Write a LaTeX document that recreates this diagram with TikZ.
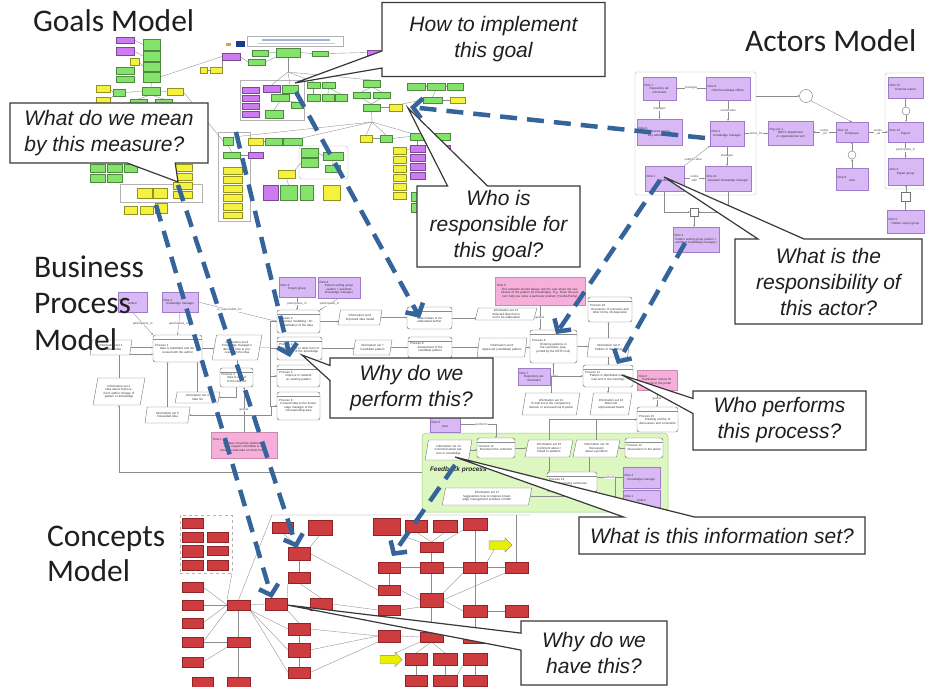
\documentclass[tikz,border=0pt]{standalone}
\usepackage{fontspec}
\setmainfont{Liberation Sans}
\newfontfamily\ttlfont{Carlito}
\usetikzlibrary{shapes.geometric,shapes.callouts,shapes.arrows,arrows.meta}

\definecolor{gGrn}{HTML}{84E36A}
\definecolor{gYel}{HTML}{F4F23C}
\definecolor{gMag}{HTML}{CC7CF0}
\definecolor{aLav}{HTML}{D9B8F6}
\definecolor{aLavD}{HTML}{9F7CC8}
\definecolor{bPink}{HTML}{F6AEDA}
\definecolor{bPinkD}{HTML}{C98AAE}
\definecolor{fbGrn}{HTML}{DDF7C0}
\definecolor{fbGrnD}{HTML}{9CCB74}
\definecolor{cRed}{HTML}{CD3D3F}
\definecolor{cRedD}{HTML}{8E2427}
\definecolor{cYel}{HTML}{E8F000}
\definecolor{arrowBlue}{HTML}{35649A}
\definecolor{hdBlue}{HTML}{9DB3E0}
\definecolor{hdGray}{HTML}{CCCCCC}
\definecolor{logoOr}{HTML}{F0A030}
\definecolor{logoBl}{HTML}{1E3C8C}

\pgfdeclarelayer{back}
\pgfdeclarelayer{edges}
\pgfsetlayers{back,edges,main}

\newcommand{\tinyf}{\fontsize{3}{3.5}\selectfont}
\newcommand{\calf}{\fontsize{21}{26}\selectfont\itshape}
\newcommand{\ttlf}{\ttlfont\fontsize{31.5}{37}\selectfont}
\newcommand{\hd}[1]{\makebox[\linewidth][l]{#1}\\}
% box given by its corners: style, name, x1, y1, x2, y2
\newcommand{\bx}[6]{\node[#1, minimum width={#5-#3}, minimum height={#6-#4}] (#2) at ({(#3+#5)/2},{(#4+#6)/2}) {};}
% box with text: style, name, x1, y1, x2, y2, inset, text
\newcommand{\tb}[8]{\pgfmathsetmacro\tbw{#5-#3-#7}%
  \node[#1, minimum width={#5-#3}, minimum height={#6-#4}, text width=\tbw pt] (#2) at ({(#3+#5)/2},{(#4+#6)/2}) {#8};}

\tikzset{
  every node/.style={inner sep=0pt, outer sep=0pt},
  goalbox/.style={rectangle, fill=#1, draw=#1!60!black, line width=.25pt},
  flat/.style={rectangle, fill=#1},
  wire/.style={draw=black!45, line width=.35pt},
  wirea/.style={wire, -{Stealth[length=2.2pt,width=1.8pt]}},
  role/.style={rectangle, fill=aLav, draw=aLavD, line width=.4pt, font=\tinyf, align=center, text=black!80},
  proc/.style={rectangle, rounded corners=2.5pt, draw=black!55, fill=white, line width=.45pt, font=\tinyf, align=center, text=black!80,
    path picture={\draw[black!45,line width=.3pt] ([yshift=-4pt]path picture bounding box.north west) -- ([yshift=-4pt]path picture bounding box.north east);}},
  info/.style={trapezium, trapezium left angle=72, trapezium right angle=108, trapezium stretches=true, draw=black!55, fill=white, line width=.4pt, font=\tinyf, align=center, text=black!80},
  rulebox/.style={rectangle, fill=bPink, draw=bPinkD, line width=.4pt, font=\tinyf, align=center, text=black!80},
  concept/.style={rectangle, fill=cRed, draw=cRedD, line width=.35pt},
  yarrow/.style={single arrow, fill=cYel, draw=black!50, line width=.3pt, single arrow head extend=3pt, inner xsep=6pt, inner ysep=4pt},
  tag/.style={font=\tinyf, text=black!70, fill=white, inner sep=.3pt, align=center},
  frame/.style={rectangle, draw=black!30, line width=.35pt},
  fbreg/.style={rectangle, rounded corners=4pt, fill=fbGrn, draw=fbGrnD, line width=.5pt},
  hub/.style={circle, draw=black!55, fill=white, line width=.4pt},
  junc/.style={rectangle, draw=black!55, fill=white, line width=.4pt},
  bubble/.style={rectangle callout, draw=black!78, line width=1.2pt, fill=white, font=\calf, text=black!88, align=center},
  ttl/.style={font=\ttlf, anchor=base west, text=black!88},
  qarrow/.style={draw=arrowBlue, line width=4.5pt, dash pattern=on 17pt off 10pt, -{Straight Barb[length=9pt,width=20pt]}},
}

\begin{document}
\begin{tikzpicture}[x=1pt, y=-1pt]
\begin{pgfonlayer}{back}
  \fill[white] (0,0) rectangle (925,687);
\end{pgfonlayer}
\useasboundingbox (0,0) rectangle (925,687);

%================ Goals model =================
\begin{pgfonlayer}{back}
  \bx{frame}{gFr1}{240}{80}{304}{120}
  \bx{frame, rounded corners=3pt}{gFr2}{299}{146}{348}{179}
  \bx{frame}{gFr3}{218}{132}{250}{221}
  \bx{frame}{gFr4}{120}{184}{202}{202}
\end{pgfonlayer}
\bx{frame, fill=white}{gHead}{247}{36}{343}{46}
\bx{flat=hdBlue}{gHeadT}{262}{39}{330}{41}
\bx{flat=hdGray}{gHeadS}{258}{43}{335}{44}
\bx{flat=logoOr}{gLogoA}{226}{43}{231}{46}
\bx{flat=logoBl}{gLogoB}{236}{41}{245}{47}
\foreach \n/\a/\b/\c/\d/\s in {
  g1/116/37/134/43/gMag, g2/116/47/134/55/gMag, g3/143/39/160/50/gGrn, g4/143/51/160/61/gGrn,
  g5/143/62/160/71/gGrn, g6/143/72/160/82/gGrn, g7/116/67/134/74/gGrn, g8/116/76/134/82/gGrn,
  g9/130/58/139/65/gYel, g10/96/85/110/92/gYel, g11/96/97/110/103/gYel, g12/113/89/125/96/gGrn,
  g13/142/87/160/95/gGrn, g14/167/88/183/95/gYel, g15/130/99/147/104/gGrn, g16/155/99/172/104/gGrn,
  g17/90/164/105/172/gGrn, g18/107/164/122/172/gGrn, g19/124/164/137/172/gGrn, g20/90/174/105/182/gGrn,
  g21/107/174/122/182/gGrn, g22/173/164/192/171/gYel, g23/173/173/192/180/gYel, g24/173/182/192/189/gYel,
  g25/173/191/192/198/gYel, g26/137/188/152/198/gYel, g27/153/188/167/198/gYel, g28/124/206/137/214/gYel,
  g29/140/206/153/214/gYel, g30/155/203/167/213/gYel,
  g31/252/50/268/56/gGrn, g32/276/48/300/57/gGrn, g33/312/51/328/56/gGrn, g34/248/59/265/65/gGrn,
  g35/222/53/240/60/gMag, g36/367/50/380/55/gMag, g37/200/67/207/73/gYel, g38/210/67/222/73/gYel,
  g39/242/87/259/93/gMag, g40/242/95/259/101/gMag, g41/242/103/259/109/gMag, g42/242/111/259/117/gMag,
  g43/263/85/280/92/gMag, g44/282/85/298/93/gGrn, g45/271/94/289/101/gGrn, g46/291/102/303/108/gGrn,
  g47/265/110/283/118/gGrn, g48/307/82/320/88/gGrn, g49/322/82/335/88/gGrn, g50/307/94/320/101/gGrn,
  g51/322/94/334/101/gGrn, g52/335/94/347/101/gGrn, g53/363/80/380/87/gGrn, g54/353/92/370/98/gGrn,
  g55/373/92/390/98/gGrn, g56/363/104/380/111/gGrn, g57/389/104/402/111/gYel,
  g58/223/137/233/145/gGrn, g59/223/152/240/158/gGrn, g60/248/152/263/158/gMag, g61/248/138/263/145/gYel,
  g62/265/138/282/145/gGrn, g63/283/138/302/145/gGrn, g64/301/148/318/157/gGrn, g65/301/158/318/167/gGrn,
  g66/323/152/343/160/gGrn, g67/325/165/340/172/gGrn, g68/278/170/295/178/gYel,
  g69/223/167/242/174/gYel, g70/223/176/242/183/gYel, g71/223/185/242/192/gYel, g72/223/194/242/201/gYel,
  g73/223/203/242/210/gYel, g74/223/212/242/218/gYel,
  g75/263/185/278/200/gMag, g76/280/185/297/200/gGrn, g77/300/185/313/200/gGrn, g78/323/185/340/200/gYel,
  g79/360/135/372/142/gYel, g80/380/135/392/142/gGrn,
  g82/393/147/406/154/gYel, g83/393/156/406/163/gYel, g84/393/165/406/172/gYel, g85/393/174/406/181/gYel,
  g86/393/183/406/190/gYel, g87/393/192/406/199/gYel,
  g88/410/145/425/152/gMag, g89/410/154/425/161/gMag, g90/410/163/425/170/gMag, g91/410/172/425/179/gMag,
  g92/433/145/450/152/gMag, g93/433/133/450/140/gGrn, g94/410/133/425/140/gGrn,
  g95/411/192/424/201/gGrn, g96/411/203/424/212/gGrn,
  g97/407/83/425/90/gGrn, g98/427/83/445/90/gGrn, g99/447/83/463/90/gGrn, g100/423/97/442/103/gGrn,
  g101/450/97/465/103/gYel}
  {\bx{goalbox=\s}{\n}{\a}{\b}{\c}{\d}}
\coordinate (gf1) at (288,72);
\coordinate (gf2) at (372,122);
\begin{pgfonlayer}{edges}
  \draw[wire] (g1.east) -- (g3.west);
  \draw[wire] (g2.east) -- (g4.west);
  \draw[wire] (g9.east) -- (g5.west);
  \draw[wire] (g7.east) -- (g9.south);
  \draw[wire] (g6.south) -- (g13.north);
  \draw[wire] (g12.east) -- (g13.west);
  \draw[wire] (g13.east) -- (g14.west);
  \draw[wire] (g13.south) -- (g15.north);
  \draw[wire] (g13.south) -- (g16.north);
  \draw[wire] (g10.east) -- (g12.west);
  \draw[wire] (g11.east) -- (g12.south west);
  \draw[wire] (g14.east) -- (g58.west);
  \draw[wire] (g6.east) -- (g35.west);
  \draw[wire] (g35.east) -- (g34.west);
  \draw[wire] (g34.east) -- (g32.south west);
  \draw[wire] (g31.east) -- (g32.west);
  \draw[wire] (g32.east) -- (g33.west);
  \draw[wire] (g33.east) -- (g36.west);
  \draw[wire] (g37.east) -- (g38.west);
  \draw[wire] (g38.east) -- (g35.south west);
  \draw[wire] (g32.south) -- (gf1);
  \draw[wire] (gf1) -- (g44.north);
  \draw[wire] (gf1) -- (g43.north);
  \draw[wire] (gf1) -- (g48.north);
  \draw[wire] (gf1) -- (g53.north);
  \draw[wire] (g43.east) -- (g44.west);
  \draw[wire] (g44.south) -- (g45.north);
  \draw[wire] (g45.south) -- (g46.north);
  \draw[wire] (g45.south) -- (g47.north);
  \draw[wire] (g48.south) -- (g50.north);
  \draw[wire] (g49.south) -- (g51.north);
  \draw[wire] (g49.south) -- (g52.north);
  \draw[wire] (g53.south) -- (g54.north);
  \draw[wire] (g53.south) -- (g55.north);
  \draw[wire] (g54.south) -- (g56.north);
  \draw[wire] (g55.south) -- (g56.north);
  \draw[wire] (g56.east) -- (g57.west);
  \draw[wire] (g56.south) -- (gf2);
  \draw[wire] (gf2) -- (g79.north);
  \draw[wire] (gf2) -- (g80.north);
  \draw[wire] (gf2) -- (g94.north west);
  \draw[wire] (gf2) -- (g63.north east);
  \draw[wire] (gf2) -- (g58.north east);
  \draw[wire] (g58.south) -- (g59.north);
  \draw[wire] (g59.east) -- (g60.west);
  \draw[wire] (g61.east) -- (g62.west);
  \draw[wire] (g62.east) -- (g63.west);
  \draw[wire] (g64.south) -- (g65.north);
  \draw[wire] (g64.east) -- (g66.west);
  \draw[wire] (g66.south) -- (g67.north);
  \draw[wire] (g65.west) -- (g68.north east);
  \draw[wire] (g79.east) -- (g80.west);
  \draw[wire] (g80.east) -- (g94.west);
  \draw[wire] (g94.south) -- (g88.north);
  \draw[wire] (g93.south) -- (g92.north);
  \draw[wire] (g94.east) -- (g93.west);
  \draw[wire] (g97.east) -- (g98.west);
  \draw[wire] (g98.east) -- (g99.west);
  \draw[wire] (g98.south) -- (g100.north);
  \draw[wire] (g100.east) -- (g101.west);
  \draw[wire] (g100.west) -- (g57.north east);
  \draw[wire] (g76.north) -- (g68.south);
  \draw[wire] (g88.west) -- (g82.east);
\end{pgfonlayer}

%================ Actors model =================
\begin{pgfonlayer}{back}
  \bx{frame, rounded corners=1.5pt}{aFrame}{635}{72}{756}{195}
  \bx{frame, rounded corners=1.5pt}{aFrame2}{885}{73}{927}{189}
\end{pgfonlayer}
\tb{role}{aR7}{643}{77}{676}{100}{3}{\hd{Role 7}Repository administrator}
\tb{role}{aR8}{706}{77}{750}{100}{3}{\hd{Role 8}Chief Knowledge Officer}
\tb{role}{aR9}{637}{119}{682}{145}{3}{\hd{Role 9}Assistant repository administrator}
\tb{role}{aR2}{710}{121}{744}{146}{3}{\hd{Role 2}Knowledge manager}
\tb{role}{aR1}{645}{166}{684}{191}{3}{\hd{Role 1}Author}
\tb{role}{aR11}{705}{166}{751}{191}{3}{\hd{Role 11}Assistant knowledge manager}
\tb{role}{aOU}{768}{121}{813}{145}{3}{\hd{Org unit 1}ROC's department or organizational unit}
\tb{role}{aR13}{836}{122}{868}{142}{3}{\hd{Role 13}Employee}
\tb{role}{aR6}{836}{168}{868}{190}{3}{\hd{Role 6}User}
\tb{role}{aR15}{888}{77}{923}{98}{3}{\hd{Role 15}External expert}
\tb{role}{aR14}{888}{122}{923}{142}{3}{\hd{Role 14}Expert}
\tb{role}{aR3}{888}{158}{923}{185}{3}{\hd{Role 3}Expert group}
\tb{role}{aR5}{887}{210}{924}{233}{3}{\hd{Role 5}Pattern expert group}
\tb{role}{aR4}{673}{227}{719}{252}{3}{\hd{Role 4}Pattern writing group (author + assistant knowledge manager)}
\node[hub, minimum size=13] (aC1) at (806,96) {};
\node[hub, minimum size=8] (aC2) at (852,155) {};
\node[hub, minimum size=8] (aC3) at (906,111) {};
\node[junc, minimum size=9] (aS1) at (906,197) {};
\node[junc, minimum size=8] (aS2) at (694,212) {};
\begin{pgfonlayer}{edges}
  \draw[wirea] (aR8.west) -- node[tag] (ta1) {manages} (aR7.east);
  \draw[wirea] (aR7.south) -- node[tag] (ta2) {manages} (aR7.south |- aR9.north);
  \draw[wirea] (aR8.south) -- node[tag] (ta3) {coordinates} (aR8.south |- aR2.north);
  \draw[wirea] (aR2.south) -- node[tag] (ta4) {manages} (aR2.south |- aR11.north);
  \draw[wirea] (aR1.north east) -- node[tag, pos=.35] (ta5) {submits idea} (aR2.south west);
  \draw[wirea] (aR1.east) -- node[tag] (ta6) {works\\with} (aR1.east -| aR11.west);
  \draw[wirea] (aR2.east) -- node[tag] (ta7) {works\_for} (aR2.east -| aOU.west);
  \draw[wirea] (aR13.west) -- node[tag] (ta8) {works\\\_for} (aR13.west -| aOU.east);
  \draw[wirea] (aR13.east) -- node[tag] (ta9) {works\\\_as} (aR13.east -| aR14.west);
  \draw[wirea] (aFrame.east |- aC1) -- (aC1.west);
  \draw[wirea] (aC1.south east) -- (aR13.north);
  \draw[wirea] (aR6.north) -- (aC2.south);
  \draw[wirea] (aC2.north) -- (aC2.north |- aR13.south);
  \draw[wirea] (aR15.south) -- (aR15.south |- aC3.north);
  \draw[wirea] (aC3.south) -- (aC3.south |- aR14.north);
  \draw[wirea] (aR14.south) -- node[tag] (ta10) {participates\_in} (aR14.south |- aR3.north);
  \draw[wirea] (aR5.north) -- (aR5.north |- aS1.south);
  \draw[wirea] (aS1.north) -- (aS1.north |- aR3.south);
  \draw[wirea] (aR1.south) |- (aS2.west);
  \draw[wirea] (aR11.south) |- (aS2.east);
  \draw[wirea] (aS2.south) -- (aS2.south |- aR4.north);
\end{pgfonlayer}

%================ Business process model =================
\begin{pgfonlayer}{back}
  \bx{fbreg}{fb}{422}{433}{668}{512}
\end{pgfonlayer}
\tb{role}{bR1}{118}{292}{147}{312}{3}{\hd{Role 1}Author}
\tb{role}{bR2}{162}{292}{198}{312}{3}{\hd{Role 2}Knowledge manager}
\tb{role}{bR3}{279}{277}{315}{297}{3}{\hd{Role 3}Expert group}
\tb{role}{bR4}{318}{277}{360}{298}{3}{\hd{Role 4}Pattern writing group (author + assistant knowledge manager)}
\tb{proc}{bP1}{153}{335}{202}{362}{4}{\hd{Process 1}Idea is submitted and discussed with the author}
\tb{info}{bI1}{90}{340}{132}{355}{12}{Information set 1\\Submitted idea}
\tb{info}{bI2}{93}{378}{145}{405}{14}{Information set 2\\Idea about improvement and/or change of pattern or knowledge}
\tb{info}{bI3}{212}{335}{262}{360}{12}{Information set 3\\Knowledge manager's decision how to proceed with the idea}
\tb{proc}{bP2}{220}{368}{253}{387}{3}{\hd{Process 2}Idea is added to the idea list}
\tb{info}{bI4}{175}{392}{220}{403}{10}{Information set 4\\Idea list}
\tb{info}{bI5}{145}{407}{190}{423}{10}{Information set 5\\Forwarded idea}
\tb{proc}{bP3}{277}{310}{320}{333}{4}{\hd{Process 3}Group modelling / formalization of the idea}
\tb{proc}{bP4}{277}{337}{322}{360}{4}{\hd{Process 4}Write pattern or other form of document of the knowledge}
\tb{proc}{bP5}{277}{365}{320}{387}{4}{\hd{Process 5}Improve in network on existing pattern}
\tb{proc}{bP6}{277}{392}{320}{420}{4}{\hd{Process 6}Forward idea to the knowledge manager of the corresponding area}
\tb{info}{bI6}{338}{310}{382}{325}{10}{Information set 6\\Improved idea model}
\tb{info}{bI7}{353}{340}{392}{355}{10}{Information set 7\\Candidate pattern}
\tb{rulebox}{bRu1}{211}{432}{277}{458}{4}{\hd{Rule 1}All ideas should be elaborated. Only support committee is allowed to elaborate on them further.}
\tb{proc}{bP7}{407}{307}{452}{329}{4}{\hd{Process 7}Select ideas to be elaborated further}
\tb{info}{bI12}{475}{308}{537}{320}{10}{Information set 12\\Selected idea that is not to be elaborated}
\tb{proc}{bP8}{408}{337}{452}{358}{4}{\hd{Process 8}Assessment of the candidate pattern}
\tb{info}{bI8}{477}{338}{527}{357}{10}{Information set 8\\Approved (candidate) pattern}
\tb{rulebox}{bRu2}{495}{277}{585}{305}{4}{\hd{Rule 5}This template should always ask the user about the usefulness of the pattern (or knowledge). E.g. Does this pattern help you solve a particular problem (Yes/No/Partly)}
\tb{proc}{bP9}{530}{330}{577}{363}{4}{\hd{Process 9}Entering patterns in the repository (supported by the KETH tool)}
\tb{role}{bR7}{518}{368}{550}{385}{3}{\hd{Role 7}Repository administrator}
\tb{proc}{bP10}{588}{297}{632}{322}{4}{\hd{Process 10}Discussion of (versions and other forms of) deposition}
\tb{info}{bI9}{587}{338}{630}{357}{10}{Information set 9\\Pattern in the portal}
\tb{proc}{bP11}{583}{365}{633}{387}{4}{\hd{Process 11}Pattern is distributed via e-mail and in the meetings}
\tb{rulebox}{bRu3}{637}{370}{677}{390}{3}{\hd{Rule 6}Publication criteria for patterns in the portal}
\tb{info}{bI10}{522}{393}{580}{415}{12}{Information set 12\\E-mail list of the competency domain or accessed via E-portal}
\tb{info}{bI11}{590}{393}{632}{415}{10}{Information set 13\\Notes list\\unprocessed board}
\tb{proc}{bP15}{637}{407}{678}{432}{4}{\hd{Process 15}Creating archive of discussions and comments}
\tb{role}{bR5}{430}{417}{460}{432}{3}{\hd{Role 5}User}
% feedback process
\tb{info}{fI14}{425}{440}{472}{460}{10}{Information set 14\\Comment about pattern or knowledge}
\tb{proc}{fP12}{477}{438}{515}{458}{3}{\hd{Process 12}Document the comment}
\tb{info}{fI15}{525}{440}{573}{457}{10}{Information set 15\\Comment about / linked to patterns}
\tb{info}{fI16}{573}{440}{620}{457}{10}{Information set 16\\Discussion about a problem}
\tb{proc}{fP14}{625}{438}{663}{458}{3}{\hd{Process 14}Discussions in the portal}
\tb{proc}{fP13}{547}{472}{597}{492}{4}{\hd{Process 13}Processing comments}
\tb{role}{fR2}{623}{467}{660}{488}{3}{\hd{Role 2}Knowledge manager}
\tb{role}{fR1}{623}{490}{660}{507}{3}{\hd{Role 1}Author}
\tb{info}{fI17}{442}{488}{532}{505}{12}{Information set 17\\Suggestions how to improve knowledge management activities in ROC}
\node[font=\fontsize{6.5}{7}\selectfont\bfseries\itshape, text=black!85, anchor=west] (fbl) at (430,470) {Feedback process};
\coordinate (bbus) at (270,347.5);
\begin{pgfonlayer}{edges}
  \draw[wirea] (bI1.east) -- (bI1.east -| bP1.west);
  \draw[wirea] (bP1.east) -- (bP1.east -| bI3.west);
  \draw[wire] (bI3.east) -- (bbus);
  \draw[wirea] (bbus) |- (bP3.west);
  \draw[wirea] (bbus) |- (bP4.west);
  \draw[wirea] (bbus) |- (bP5.west);
  \draw[wirea] (bbus) |- (bP6.west);
  \draw[wirea] (bP6.west) -- ++(-6,0) |- (bI5.east);
  \draw[wirea] (bI5.north) -- (bI5.north |- bP1.south);
  \draw[wirea] (bI4.north) -- (bI4.north |- bP1.south);
  \draw[wirea] (bP2.south) |- (bI4.east);
  \draw[wirea] (bI3.south) -- (bI3.south |- bP2.north);
  \draw[wirea] (bI2.north) |- ([yshift=-6pt]bP1.west);
  \draw[wirea] (bR1.south) -- node[tag] (tb1) {participates\_in} (bP1.north west);
  \draw[wirea] (bR2.south) -- node[tag] (tb2) {participates\_in} (bP1.north);
  \draw[wirea] (bR2.east) -- node[tag, pos=.4] (tb3) {is\_responsible\_for} (bP3.west);
  \draw[wirea] (bR3.south) -- node[tag] (tb4) {participates\_in} (bR3.south |- bP3.north);
  \draw[wirea] (bR4.south) -- node[tag] (tb5) {participates\_in} (bP3.north east);
  \draw[wirea] (bP3.east) -- (bP3.east -| bI6.west);
  \draw[wirea] (bP4.east) -- (bP4.east -| bI7.west);
  \draw[wirea] (bI7.east) -- (bI7.east -| bP8.west);
  \draw[wirea] (bI6.east) -- (bI6.east -| bP7.west);
  \draw[wirea] (bP7.east) -- (bP7.east -| bI12.west);
  \draw[wirea] (bP8.east) -- (bP8.east -| bI8.west);
  \draw[wirea] (bI8.east) -- (bI8.east -| bP9.west);
  \draw[wirea] (bP9.east) -- (bP9.east -| bI9.west);
  \draw[wirea] (bI9.north) -- (bI9.north |- bP10.south);
  \draw[wirea] (bI9.south) -- (bI9.south |- bP11.north);
  \draw[wirea] (bRu2.south) -- node[tag] (tb6) {guides} (bRu2.south |- bP9.north);
  \draw[wirea] (bR7.east) -| node[tag, pos=.3] (tb7) {performs} (bP9.south);
  \draw[wirea] (bP11.south) -- (bP11.south |- bI11.north);
  \draw[wirea] (bI10.north) |- (bP11.west);
  \draw[wirea] (bRu3.south) -- node[tag] (tb8) {guides} (bRu3.south |- bP15.north);
  \draw[wirea] (bRu1.north) -- node[tag] (tb9) {guides} (bRu1.north |- bP2.south);
  \draw[wirea] (bR5.east) -| node[tag, pos=.3] (tb10) {performs} (fP12.north);
  \draw[wirea] (fI15.north) |- (bP15.west);
  \draw[wirea] (fI16.north) |- (bP15.west);
  \draw[wirea] (fI14.east) -- (fI14.east -| fP12.west);
  \draw[wirea] (fP12.east) -- (fP12.east -| fI15.west);
  \draw[wirea] (fP14.west) -- (fP14.west -| fI16.east);
  \draw[wirea] (fI15.south) -- (fI15.south |- fP13.north);
  \draw[wirea] ([xshift=-7pt]fI16.south) -- ([xshift=-7pt]fI16.south |- fP13.north);
  \draw[wirea] (fR2.west) -- node[tag] (tb11) {performs} (fR2.west -| fP13.east);
  \draw[wire] (fR1.west) -- ++(-8,0) |- (fR2.west);
  \draw[wirea] (fP13.south) |- (fI17.east);
  \draw[wirea] (fb.west) -| (bI2.south);
\end{pgfonlayer}

%================ Concepts model =================
\begin{pgfonlayer}{back}
  \bx{frame, dashed}{cFrame}{180}{515}{232}{573}
\end{pgfonlayer}
\foreach \n/\a/\b/\c/\d in {
  cL1/182/518/203/528, cL2/182/532/203/542, cL3/207/532/228/542, cL4/182/545/203/557,
  cL5/207/546/228/555, cL6/182/560/203/570, cL7/207/560/228/570, cL8/182/582/203/592,
  cL9/182/600/203/610, cL10/182/618/203/628, cL11/182/637/203/647, cL12/182/657/203/667,
  cL13/192/677/213/688, cA/227/600/250/610, cB/227/637/250/647, cC/227/677/250/688,
  cD/265/598/287/610, cE/272/522/293/533, cF/308/520/332/535, cG/288/547/310/560,
  cH/288/572/310/583, cI/310/598/332/610, cJ/288/623/310/635, cK/288/643/310/657,
  cM/288/667/310/678, cR1/373/518/400/535, cR2/405/520/427/532, cR3/433/520/457/532,
  cR4/463/518/487/530, cR5/420/542/443/552, cR6/378/562/400/573, cR7/420/562/443/573,
  cR8/463/562/487/573, cR9/505/562/528/573, cR10/378/585/400/595, cR11/420/593/443/607,
  cR12/378/605/400/615, cR13/463/605/487/617, cR14/505/605/528/617, cR15/378/630/400/642,
  cR16/420/632/443/642, cR17/405/653/427/665, cR18/433/653/457/665, cR19/463/653/487/665,
  cR20/405/675/427/686, cR21/433/675/457/686, cR22/463/675/487/686, cR23/463/632/487/643}
  {\bx{concept}{\n}{\a}{\b}{\c}{\d}}
\node[yarrow, minimum height=23] (cY1) at (498.5,545) {};
\node[yarrow, minimum height=22] (cY2) at (389,659.5) {};
\coordinate (cTop) at (272,515);
\coordinate (cTopR) at (530,515);
\begin{pgfonlayer}{edges}
  \draw[wire] (cA.west) -- (cL8.east);
  \draw[wire] (cA.west) -- (cL9.east);
  \draw[wire] (cA.west) -- (cL10.east);
  \draw[wire] (cA.south west) -- (cL11.east);
  \draw[wire] (cA.north west) -- (cFrame.south east);
  \draw[wire] (cA.north) -- (cTop) -- (cTopR);
  \draw[wire] (cA.east) -- (cD.west);
  \draw[wire] (cA.south) -- (cB.north);
  \draw[wire] (cB.south) -- (cC.north);
  \draw[wire] (cB.south west) -- (cL12.east);
  \draw[wire] (cB.west) -- (cL11.east);
  \draw[wire] (cA.south east) -- (cJ.west);
  \draw[wire] (cA.south east) -- (cK.west);
  \draw[wire] (cA.south east) -- (cM.west);
  \draw[wire] (cH.south west) -- (cD.north east);
  \draw[wire] (cG.south) -- (cH.north);
  \draw[wire] (cH.south) -- (cI.north);
  \draw[wire] (cG.north) -- (cE.south);
  \draw[wire] (cG.north east) -- (cF.south);
  \draw[wire] (cD.south east) -- (cJ.north);
  \draw[wire] (cJ.south) -- (cK.north);
  \draw[wire] (cK.south) -- (cM.north);
  \draw[wire] (cG.east) -- (cR10.west);
  \draw[wire] (cI.east) -- (cR12.west);
  \draw[wire] (cJ.east) -- (cR15.west);
  \draw[wire] (cK.east) -- (cR15.west);
  \draw[wire] (cM.east) -- (cR15.south west);
  \draw[wire] (cR1.south east) -- (cR5.north west);
  \draw[wire] (cR2.south) -- (cR5.north);
  \draw[wire] (cR3.south) -- (cR5.north);
  \draw[wire] (cR4.south west) -- (cR5.north east);
  \draw[wire] (cR5.south) -- (cR7.north);
  \draw[wire] (cR6.east) -- (cR7.west);
  \draw[wire] (cR7.east) -- (cR8.west);
  \draw[wire] (cR8.east) -- (cR9.west);
  \draw[wire] (cR4.south) -- (cR8.north);
  \draw[wire] (cR8.north east) -- (cY1.south west);
  \draw[wire] (cR7.south) -- (cR11.north);
  \draw[wire] (cR6.south) -- (cR10.north);
  \draw[wire] (cR10.east) -- (cR11.west);
  \draw[wire] (cR12.east) -- (cR11.south west);
  \draw[wire] (cR8.south west) -- (cR11.north east);
  \draw[wire] (cR9.south west) -- (cR11.east);
  \draw[wire] (cR8.south) -- (cR13.north);
  \draw[wire] (cR13.west) -- (cR11.east);
  \draw[wire] (cR13.east) -- (cR14.west);
  \draw[wire] (cR13.south) -- (cR23.north);
  \draw[wire] (cR11.south) -- (cR16.north);
  \draw[wire] (cR15.east) -- (cR16.west);
  \draw[wire] (cR16.south) -- (cR17.north);
  \draw[wire] (cR16.south) -- (cR18.north);
  \draw[wire] (cR16.south west) -- (cY2.north east);
  \draw[wire] (cR17.south) -- (cR20.north);
  \draw[wire] (cR18.south) -- (cR21.north);
  \draw[wire] (cR19.south west) -- (cR21.north east);
  \draw[wire] (cR19.south) -- (cR22.north);
  \draw[wire] (cR9.north) -- (cR9.north |- cTopR);
\end{pgfonlayer}

%================ Titles =================
\node[ttl] (tGoals) at (33,32) {Goals Model};
\node[ttl] (tActors) at (745,52) {Actors Model};
\node[ttl] (tBus1) at (34,277) {Business};
\node[ttl] (tBus2) at (34,313) {Process};
\node[ttl] (tBus3) at (34,350) {Model};
\node[ttl] (tCon1) at (47,546) {Concepts};
\node[ttl] (tCon2) at (47,581) {Model};

%================ Question callouts =================
\node[bubble, minimum width=223, minimum height=74, callout absolute pointer={(295,83)}, callout pointer width=17pt] (qHow) at (493.5,39.5) {How to implement\\this goal};
\node[bubble, align=left, minimum width=198, minimum height=60, callout absolute pointer={(178,182)}, callout pointer width=48pt] (qMean) at (109,133) {What do we mean\\by this measure?};
\node[bubble, minimum width=163, minimum height=81, callout absolute pointer={(408,108)}, callout pointer width=40pt] (qResp) at (498.5,226.5) {Who is\\responsible for\\this goal?};
\node[bubble, minimum width=187, minimum height=85, callout absolute pointer={(664,177)}, callout pointer width=46pt] (qActor) at (828.5,281.5) {What is the\\responsibility of\\this actor?};
\node[bubble, minimum width=163, minimum height=60, callout absolute pointer={(302,355)}, callout pointer width=15pt] (qPerf) at (411.5,388) {Why do we\\perform this?};
\node[bubble, minimum width=173, minimum height=59, callout absolute pointer={(622,375)}, callout pointer width=15pt] (qWho) at (779.5,420.5) {Who performs\\this process?};
\node[bubble, minimum width=286, minimum height=37, callout absolute pointer={(455,457)}, callout pointer width=71pt] (qInfo) at (722,535.5) {What is this information set?};
\node[bubble, minimum width=146, minimum height=64, callout absolute pointer={(287,605)}, callout pointer width=17pt] (qHave) at (594,653) {Why do we\\have this?};

%================ Dashed links between the models =================
\coordinate (qa1) at (296,92);  \coordinate (qa2) at (420,318);
\coordinate (qc1) at (236,132); \coordinate (qc2) at (290,357);
\coordinate (ql1) at (156,205); \coordinate (ql2) at (272,598);
\coordinate (qm1) at (178,185); \coordinate (qm2) at (297,548);
\coordinate (qd1) at (705,138); \coordinate (qd2) at (410,107);
\coordinate (qe1) at (660,180); \coordinate (qe2) at (556,334);
\coordinate (qf1) at (685,243); \coordinate (qf2) at (617,364);
\coordinate (qg1) at (455,465); \coordinate (qg2) at (392,556);
\draw[qarrow] (qa1) -- (qa2);
\draw[qarrow] (qc1) -- (qc2);
\draw[qarrow] (ql1) -- (ql2);
\draw[qarrow] (qm1) -- (qm2);
\draw[qarrow] (qd1) -- (qd2);
\draw[qarrow] (qe1) -- (qe2);
\draw[qarrow] (qf1) -- (qf2);
\draw[qarrow] (qg1) -- (qg2);
\end{tikzpicture}
\end{document}
